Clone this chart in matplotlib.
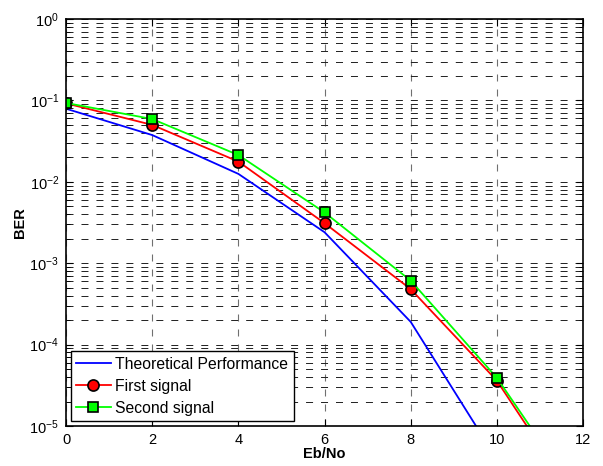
import numpy as np
import matplotlib
matplotlib.use("Agg")
import matplotlib.pyplot as plt
from matplotlib.ticker import LogLocator, NullFormatter

plt.rcParams['font.family'] = ['Liberation Sans', 'DejaVu Sans']
plt.rcParams['mathtext.default'] = 'regular'

# Eb/No points (dB)
ebno = [0, 2, 4, 6, 8, 10, 12]
# BER values
ber_theory = [0.079, 0.0375, 0.0125, 0.0024, 0.00019, 0.0000039, 0.000000009]
ber_first = [0.092, 0.050, 0.0177, 0.0031, 0.00048, 0.000036, 0.0000009]
ber_second = [0.093, 0.059, 0.0213, 0.0042, 0.00061, 0.000039, 0.0000011]

fig = plt.figure(figsize=(6.03, 4.66), dpi=100)
ax = fig.add_axes([0.1095, 0.0858, 0.8575, 0.8735])

ax.semilogy(ebno, ber_theory, color='#0000ff', lw=1.3, label='Theoretical Performance')
ax.semilogy(ebno, ber_first, color='#ff0000', lw=1.3, marker='o', ms=8,
            mfc='#ff0000', mec='k', mew=1.2, label='First signal')
ax.semilogy(ebno, ber_second, color='#00ff00', lw=1.3, marker='s', ms=7,
            mfc='#00ff00', mec='k', mew=1.2, label='Second signal')

ax.set_xlim(0, 12)
ax.set_ylim(1e-5, 1)
ax.set_xticks([0, 2, 4, 6, 8, 10, 12])
ax.yaxis.set_major_locator(LogLocator(base=10, numticks=10))
ax.yaxis.set_minor_locator(LogLocator(base=10, subs=np.arange(2, 10), numticks=20))
ax.yaxis.set_minor_formatter(NullFormatter())

# dashed grid like matlab
ax.grid(True, which='major', axis='x', ls=(0, (6.3, 7.2)), color='#707070', lw=0.8)
ax.grid(True, which='both', axis='y', ls=(0, (7.2, 8.2)), color='#202020', lw=0.7)

ax.tick_params(which='both', direction='in', top=True, right=True, labelsize=10.5, pad=5)
ax.tick_params(which='major', length=5)
ax.tick_params(which='minor', length=3)
for s in ax.spines.values():
    s.set_linewidth(1.2)

ax.set_xlabel('Eb/No', fontsize=10.5, fontweight='bold', labelpad=0)
ax.set_ylabel('BER', fontsize=10.5, fontweight='bold')
ax.yaxis.set_label_coords(-0.075, 0.5)

leg = ax.legend(loc='lower left', fontsize=11.3, fancybox=False, framealpha=1,
                edgecolor='k', borderaxespad=0.3, handlelength=2.2,
                handletextpad=0.3, borderpad=0.35, labelspacing=0.45)
leg.get_frame().set_linewidth(1.0)

fig.savefig('out.png', dpi=100)
